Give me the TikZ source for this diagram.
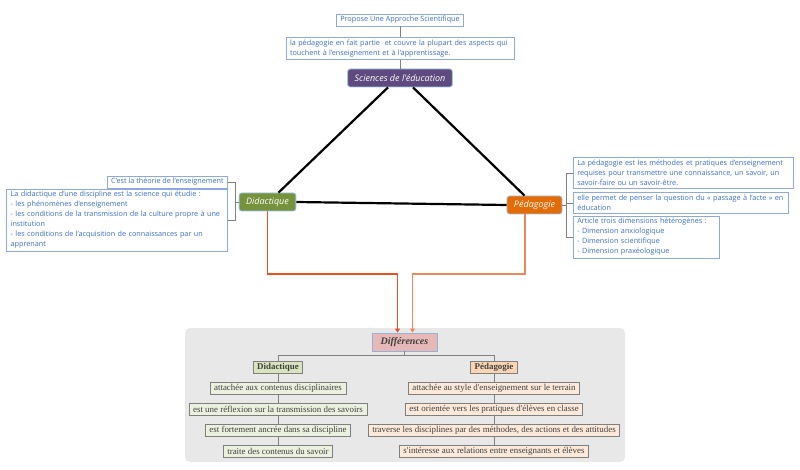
\documentclass[tikz,border=0pt]{standalone}
\usepackage{fontspec}
\setmainfont{Open Sans}
\newfontfamily\cambfont{Liberation Serif}
\usetikzlibrary{arrows.meta}

\definecolor{notetext}{HTML}{3A6FC4}
\definecolor{noteline}{HTML}{8EA9DB}
\definecolor{linkgray}{HTML}{808080}
\definecolor{scipurple}{HTML}{5E4A7E}
\definecolor{didgreen}{HTML}{76923C}
\definecolor{pedorange}{HTML}{E36C09}
\definecolor{topicline}{HTML}{9DC3E6}
\definecolor{flowdark}{HTML}{E8501E}
\definecolor{flowlight}{HTML}{F0875A}
\definecolor{panelgray}{HTML}{E8E8E8}
\definecolor{diffpink}{HTML}{E6B9B8}
\definecolor{diffline}{HTML}{95B3D7}
\definecolor{greentitle}{HTML}{D7E4BD}
\definecolor{greencell}{HTML}{EBF1DE}
\definecolor{peachtitle}{HTML}{FBD4B4}
\definecolor{peachcell}{HTML}{FDE9D9}
\definecolor{cellline}{HTML}{7F7F7F}
\definecolor{celltext}{HTML}{404040}

\tikzset{
  note/.style={draw=noteline, text=notetext, line width=0.6pt, inner xsep=4pt, inner ysep=2.5pt,
    font=\fontsize{7.25}{10}\selectfont},
  topic/.style={draw=topicline, text=white, rounded corners=2.5pt, line width=0.8pt,
    minimum height=18pt, inner xsep=7pt, font=\fontsize{9}{10}\selectfont\itshape},
  link/.style={draw=linkgray, line width=0.6pt},
  bond/.style={draw=black, line width=2.2pt},
  flow/.style={line width=1.2pt, -{Triangle[length=4pt,width=5pt]}},
  cell/.style={draw=cellline, text=celltext, line width=0.6pt, inner xsep=4pt, inner ysep=1.5pt,
    minimum height=12pt, font=\cambfont\fontsize{8.9}{10}\selectfont}
}

\begin{document}
\begin{tikzpicture}[x=1pt, y=-1pt]

\useasboundingbox (0,0) rectangle (800,470);

% Top notes and the central topic
\node[note] (prop) at (400,20) {Propose Une Approche Scientifique};
\node[note, text width=220pt, align=left] (lap) at (400,48.5)
  {la pédagogie en fait partie\ \ et couvre la plupart des aspects qui\\touchent à l'enseignement et à l'apprentissage.};
\node[topic, fill=scipurple] (sci) at (400,78) {Sciences de l'éducation};
\draw[link] (prop.south) -- (lap.north);
\draw[link] (lap.south) -- (sci.north);

% The two main topics
\node[topic, fill=didgreen] (did) at (267.5,202) {Didactique};
\node[topic, fill=pedorange] (ped) at (534.5,205) {Pédagogie};

% Draw the triangle
\draw[bond] ([xshift=-12pt]sci.south) -- ([xshift=11pt]did.north);
\draw[bond] ([xshift=13pt]sci.south) -- ([xshift=-10pt]ped.north);
\draw[bond] (did.east) -- (ped.west);

% Left notes
\node[note, anchor=east] (theo) at (228,182) {C'est la théorie de l'enseignement};
\node[note, anchor=east, text width=213pt, align=left] (didtxt) at (228,220)
  {La didactique d'une discipline est la science qui étudie :\\
   - les phénomènes d'enseignement\\
   - les conditions de la transmission de la culture propre à une\\
   institution\\
   - les conditions de l'acquisition de connaissances par un\\
   apprenant};
\coordinate (lj) at (235,202);
\draw[link] (did.west) -- (lj) |- (theo.east);
\draw[link] (lj) |- (didtxt.east);

% Right notes
\node[note, anchor=west, text width=212pt, align=left] (p1) at (573,173)
  {La pédagogie est les méthodes et pratiques d'enseignement\\
   requises pour transmettre une connaissance, un savoir, un\\
   savoir-faire ou un savoir-être.};
\node[note, anchor=west, text width=207pt, align=left] (p2) at (573,203)
  {elle permet de penser la question du « passage à l'acte » en\\éducation};
\node[note, anchor=west, text width=138pt, align=left] (p3) at (573,237)
  {Article trois dimensions hétérogènes :\\
   - Dimension anxiologique\\
   - Dimension scientifique\\
   - Dimension praxéologique};
\coordinate (rj) at (566,205);
\draw[link] (ped.east) -- (rj) |- (p1.west);
\draw[link] (rj) |- (p2.west);
\draw[link] (rj) |- (p3.west);

% Draw the panel
\fill[panelgray, rounded corners=5pt] (185,328) rectangle (625,462);
\node[draw=diffline, fill=diffpink, text=celltext, line width=0.8pt, minimum width=65pt, minimum height=18pt,
  font=\cambfont\fontsize{10}{10}\selectfont\bfseries\itshape] (diff) at (404.5,342) {Différences};

% Orange arrows into the panel
\coordinate (fl) at (397.5,274);
\coordinate (fr) at (412.5,274);
\draw[flow, color=flowdark] (did.south) |- (fl) -- (fl |- diff.north);
\draw[flow, color=flowlight] ([xshift=-9.5pt]ped.south) |- (fr) -- (fr |- diff.north);

% Column titles
\node[cell, fill=greentitle, font=\cambfont\fontsize{8.9}{10}\selectfont\bfseries] (dtit) at (278,367) {Didactique};
\node[cell, fill=peachtitle, font=\cambfont\fontsize{8.9}{10}\selectfont\bfseries] (ptit) at (494,367) {Pédagogie};
\draw[link] (diff.south) -- ++(0,4) coordinate (bj);
\draw[link] (dtit.north) |- (bj) -| (ptit.north);

% Left column
\node[cell, fill=greencell] (d1) at (278,388) {attachée aux contenus disciplinaires};
\node[cell, fill=greencell] (d2) at (278,409) {est une réflexion sur la transmission des savoirs};
\node[cell, fill=greencell] (d3) at (278,430) {est fortement ancrée dans sa discipline};
\node[cell, fill=greencell] (d4) at (278,451) {traite des contenus du savoir};
\draw[link] (dtit) -- (d1) -- (d2) -- (d3) -- (d4);

% Right column
\node[cell, fill=peachcell] (e1) at (494,388) {attachée au style d'enseignement sur le terrain};
\node[cell, fill=peachcell] (e2) at (494,409) {est orientée vers les pratiques d'élèves en classe};
\node[cell, fill=peachcell] (e3) at (494,430) {traverse les disciplines par des méthodes, des actions et des attitudes};
\node[cell, fill=peachcell] (e4) at (494,451) {s'intéresse aux relations entre enseignants et élèves};
\draw[link] (ptit) -- (e1) -- (e2) -- (e3) -- (e4);

\end{tikzpicture}
\end{document}
